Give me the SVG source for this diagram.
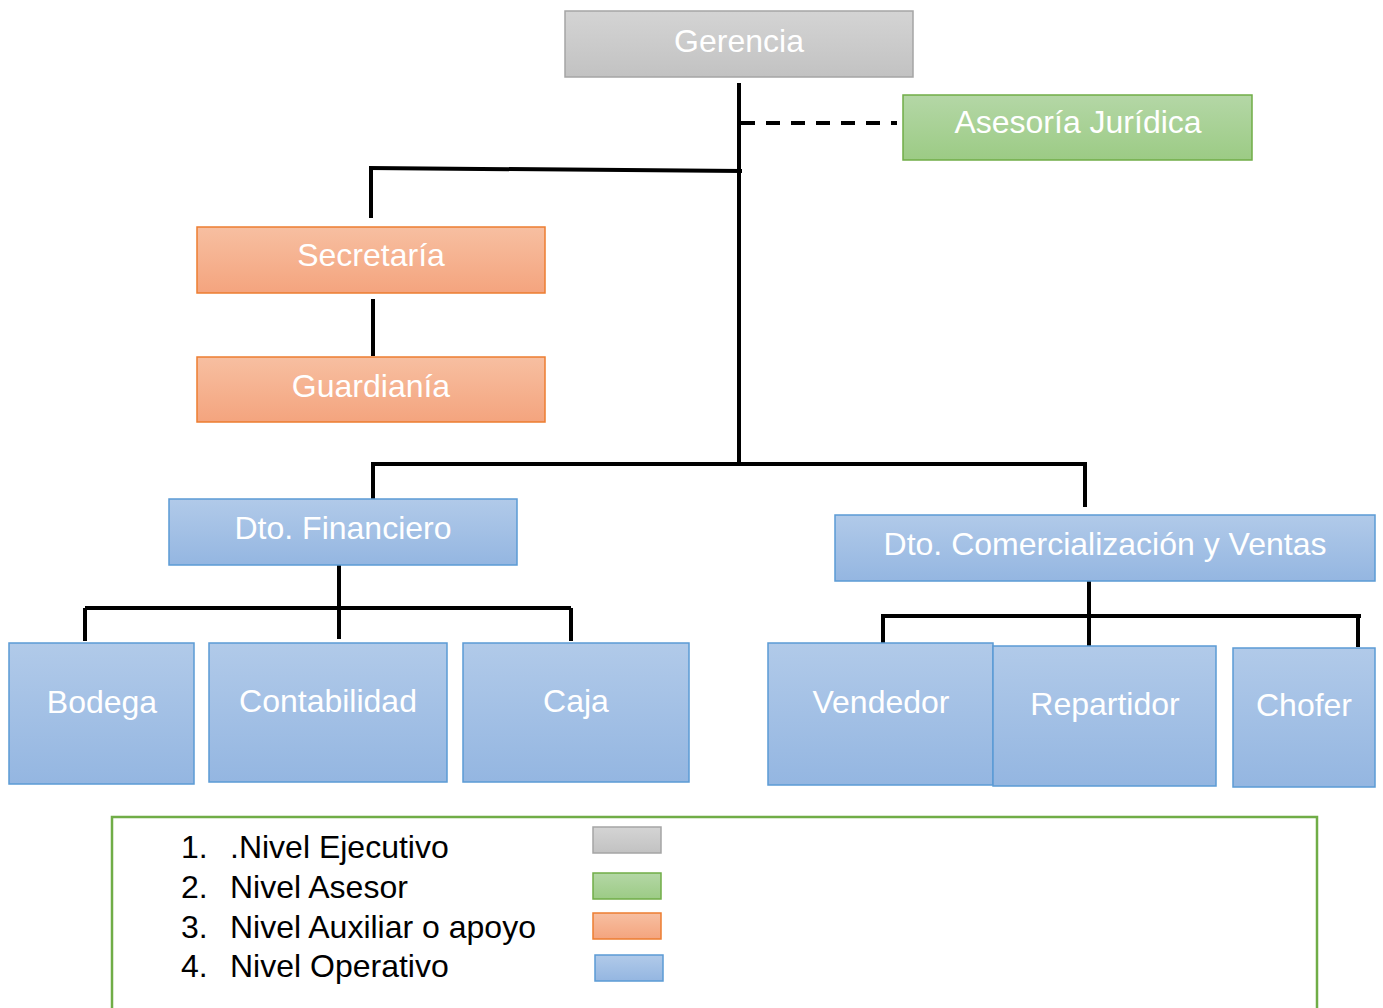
<svg xmlns="http://www.w3.org/2000/svg" width="1383" height="1008" viewBox="0 0 1383 1008">
  <defs>
    <linearGradient id="gGray" x1="0" y1="0" x2="0" y2="1">
      <stop offset="0" stop-color="#d4d4d4"/>
      <stop offset="1" stop-color="#c2c2c2"/>
    </linearGradient>
    <linearGradient id="gGreen" x1="0" y1="0" x2="0" y2="1">
      <stop offset="0" stop-color="#b4d7a6"/>
      <stop offset="1" stop-color="#9ccb85"/>
    </linearGradient>
    <linearGradient id="gOrange" x1="0" y1="0" x2="0" y2="1">
      <stop offset="0" stop-color="#f7bfa1"/>
      <stop offset="1" stop-color="#f4a47e"/>
    </linearGradient>
    <linearGradient id="gBlue" x1="0" y1="0" x2="0" y2="1">
      <stop offset="0" stop-color="#b1cae9"/>
      <stop offset="1" stop-color="#94b6e1"/>
    </linearGradient>
  </defs>
  <style>
    .gray { fill: url(#gGray); stroke: #a5a5a5; stroke-width: 1.5; }
    .green { fill: url(#gGreen); stroke: #70ad47; stroke-width: 1.5; }
    .orange { fill: url(#gOrange); stroke: #ed7d31; stroke-width: 1.5; }
    .blue { fill: url(#gBlue); stroke: #5b9bd5; stroke-width: 1.5; }
    .lbl { font-family: "Liberation Sans", Arial, sans-serif; font-size: 32px; fill: #ffffff; text-anchor: middle; }
    .leg { font-family: "Liberation Sans", Arial, sans-serif; font-size: 32px; fill: #000000; }
    .ln { stroke: #000000; stroke-width: 4; fill: none; }
    .dash { stroke: #000000; stroke-width: 4; fill: none; stroke-dasharray: 14 11; }
  </style>

  <!-- connectors -->
  <g id="connectors">
    <line class="ln" x1="739" y1="83" x2="739" y2="466"/>
    <line class="dash" x1="741" y1="123" x2="897" y2="123"/>
    <line class="ln" x1="369" y1="168" x2="742" y2="171"/>
    <line class="ln" x1="371" y1="168" x2="371" y2="218"/>
    <line class="ln" x1="373" y1="299" x2="373" y2="356"/>
    <line class="ln" x1="371" y1="464" x2="1087" y2="464"/>
    <line class="ln" x1="373" y1="462" x2="373" y2="502"/>
    <line class="ln" x1="1085" y1="464" x2="1085" y2="507"/>
    <line class="ln" x1="339" y1="565" x2="339" y2="639"/>
    <line class="ln" x1="85" y1="608" x2="571" y2="608"/>
    <line class="ln" x1="85" y1="608" x2="85" y2="641"/>
    <line class="ln" x1="571" y1="608" x2="571" y2="641"/>
    <line class="ln" x1="1089" y1="581" x2="1089" y2="648"/>
    <line class="ln" x1="881" y1="616" x2="1361" y2="616"/>
    <line class="ln" x1="883" y1="614" x2="883" y2="643"/>
    <line class="ln" x1="1358" y1="616" x2="1358" y2="647"/>
  </g>

  <g id="gerencia">
    <rect class="gray" x="565" y="11" width="348" height="66"/>
    <text class="lbl" x="739" y="52">Gerencia</text>
  </g>
  <g id="asesoria-juridica">
    <rect class="green" x="903" y="95" width="349" height="65"/>
    <text class="lbl" x="1078" y="133">Asesoría Jurídica</text>
  </g>
  <g id="secretaria">
    <rect class="orange" x="197" y="227" width="348" height="66"/>
    <text class="lbl" x="371" y="266">Secretaría</text>
  </g>
  <g id="guardiania">
    <rect class="orange" x="197" y="357" width="348" height="65"/>
    <text class="lbl" x="371" y="397">Guardianía</text>
  </g>
  <g id="dto-financiero">
    <rect class="blue" x="169" y="499" width="348" height="66"/>
    <text class="lbl" x="343" y="539">Dto. Financiero</text>
  </g>
  <g id="dto-comercializacion">
    <rect class="blue" x="835" y="515" width="540" height="66"/>
    <text class="lbl" x="1105" y="555">Dto. Comercialización y Ventas</text>
  </g>
  <g id="bodega">
    <rect class="blue" x="9" y="643" width="185" height="141"/>
    <text class="lbl" x="102" y="713">Bodega</text>
  </g>
  <g id="contabilidad">
    <rect class="blue" x="209" y="643" width="238" height="139"/>
    <text class="lbl" x="328" y="712">Contabilidad</text>
  </g>
  <g id="caja">
    <rect class="blue" x="463" y="643" width="226" height="139"/>
    <text class="lbl" x="576" y="712">Caja</text>
  </g>
  <g id="vendedor">
    <rect class="blue" x="768" y="643" width="225" height="142"/>
    <text class="lbl" x="881" y="713">Vendedor</text>
  </g>
  <g id="repartidor">
    <rect class="blue" x="993" y="646" width="223" height="140"/>
    <text class="lbl" x="1105" y="715">Repartidor</text>
  </g>
  <g id="chofer">
    <rect class="blue" x="1233" y="648" width="142" height="139"/>
    <text class="lbl" x="1304" y="716">Chofer</text>
  </g>

  <!-- legend -->
  <g id="legend">
    <rect x="112" y="817" width="1205" height="200" fill="none" stroke="#70ad47" stroke-width="2.5"/>
    <text class="leg" x="181" y="858">1.</text>
    <text class="leg" x="230" y="858">.Nivel Ejecutivo</text>
    <text class="leg" x="181" y="898">2.</text>
    <text class="leg" x="230" y="898">Nivel Asesor</text>
    <text class="leg" x="181" y="938">3.</text>
    <text class="leg" x="230" y="938">Nivel Auxiliar o apoyo</text>
    <text class="leg" x="181" y="977">4.</text>
    <text class="leg" x="230" y="977">Nivel Operativo</text>
    <rect class="gray" x="593" y="827" width="68" height="26"/>
    <rect class="green" x="593" y="873" width="68" height="26"/>
    <rect class="orange" x="593" y="913" width="68" height="26"/>
    <rect class="blue" x="595" y="955" width="68" height="26"/>
  </g>
</svg>
